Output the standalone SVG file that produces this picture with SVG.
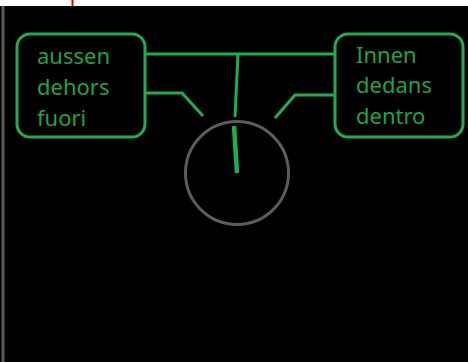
<svg xmlns="http://www.w3.org/2000/svg" width="468" height="362" viewBox="0 0 468 362">
  <style>
    .box { fill: none; stroke: #1aaf50; stroke-width: 3; }
    .label { font-family: "Noto Sans", "DejaVu Sans", sans-serif; font-size: 22px; fill: #17a545; }
    .wire { fill: none; stroke: #1aaf50; stroke-width: 3; stroke-linecap: butt; stroke-linejoin: miter; }
  </style>

  <!-- page strip and dark canvas -->
  <rect x="0" y="0" width="468" height="362" fill="#ffffff"/>
  <rect x="0" y="6" width="468" height="356" fill="#000000"/>
  <rect x="1.5" y="6" width="3" height="356" fill="#5a5a5a"/>
  <line x1="72.5" y1="0" x2="72.5" y2="6" stroke="#e00000" stroke-width="2"/>

  <!-- dial -->
  <g id="dial">
    <circle cx="237" cy="173" r="51.5" fill="none" stroke="#5c5c5c" stroke-width="3"/>
    <line x1="234" y1="126" x2="237" y2="173" stroke="#1aaf50" stroke-width="4.5"/>
  </g>

  <!-- connectors -->
  <g id="connectors">
    <line class="wire" x1="145" y1="54" x2="335" y2="54"/>
    <line class="wire" x1="238" y1="54" x2="235" y2="117"/>
    <polyline class="wire" points="145,93 182,93 203,116"/>
    <polyline class="wire" points="335,95 295,95 275,118"/>
  </g>

  <g id="outside">
    <rect class="box" x="17" y="34" width="128" height="103" rx="13"/>
    <text class="label" x="37" y="64">aussen</text>
    <text class="label" x="37" y="95">dehors</text>
    <text class="label" x="37" y="126">fuori</text>
  </g>

  <g id="inside">
    <rect class="box" x="335" y="34" width="128" height="103" rx="13"/>
    <text class="label" x="356" y="63">Innen</text>
    <text class="label" x="356" y="93">dedans</text>
    <text class="label" x="356" y="124">dentro</text>
  </g>
</svg>
